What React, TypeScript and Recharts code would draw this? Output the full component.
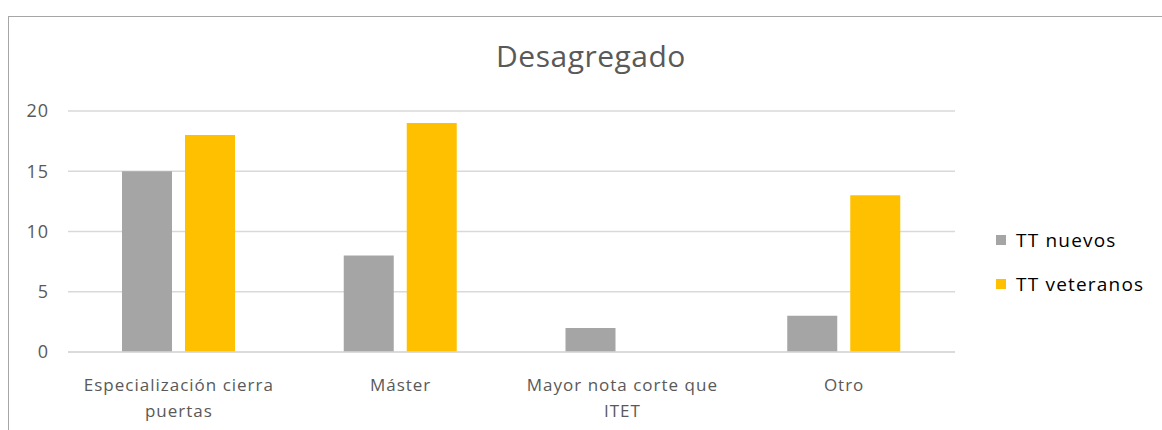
import React from 'react'
import { BarChart, Bar, XAxis, YAxis, CartesianGrid } from 'recharts'

const categories = ['Especialización cierra puertas', 'Máster', 'Mayor nota corte que ITET', 'Otro']
const tickLines = [['Especialización cierra', 'puertas'], ['Máster'], ['Mayor nota corte que', 'ITET'], ['Otro']]
const nuevos = [15, 8, 2, 3]
const veteranos = [18, 19, 0, 13]
const yTicks = [0, 5, 10, 15, 20]
const seriesNames = ['TT nuevos', 'TT veteranos']
const seriesColors = ['#A5A5A5', '#FFC000']

const data = categories.map((c, i) => ({
  name: c,
  'TT nuevos': nuevos[i],
  'TT veteranos': veteranos[i],
}))

const FONT = '"Open Sans", sans-serif'
const TEXT = '#595959'

const CategoryTick = (props: any) => {
  const { x, y, index } = props
  const lines = tickLines[index] || [props.payload.value]
  return (
    <text x={x} y={y + 31} textAnchor="middle" fill={TEXT} fontSize={17} fontFamily={FONT} letterSpacing={1}>
      {lines.map((l: string, i: number) => (
        <tspan key={i} x={x} dy={i === 0 ? 0 : 26}>{l}</tspan>
      ))}
    </text>
  )
}

export default function App() {
  return (
    <div style={{ position: 'absolute', left: 0, top: 0, width: 1162, height: 430, overflow: 'hidden', background: '#fff' }}>
      <div style={{ position: 'absolute', left: 8, top: 16, width: 1200, height: 500, border: '1px solid #A6A6A6', boxSizing: 'border-box' }} />
      <div style={{ position: 'absolute', left: 0, top: 35, width: 1182, textAlign: 'center', fontFamily: FONT, fontSize: 30, color: TEXT, letterSpacing: 0.5 }}>
        Desagregado
      </div>
      <div style={{ position: 'absolute', left: 0, top: 0 }}>
        <BarChart width={1162} height={430} data={data} margin={{ top: 111, right: 207, bottom: 48, left: 0 }} barGap={13}>
          <CartesianGrid vertical={false} stroke="#D9D9D9" strokeWidth={1.5} />
          <XAxis dataKey="name" height={30} axisLine={{ stroke: '#D9D9D9', strokeWidth: 1.5 }} tickLine={false} tick={<CategoryTick />} interval={0} />
          <YAxis
            domain={[0, 20]}
            ticks={yTicks}
            width={68}
            axisLine={false}
            tickLine={false}
            tick={{ fill: TEXT, fontSize: 18, fontFamily: FONT, letterSpacing: 1 }}
            tickMargin={13}
          />
          <Bar dataKey="TT nuevos" fill={seriesColors[0]} barSize={50} isAnimationActive={false} />
          <Bar dataKey="TT veteranos" fill={seriesColors[1]} barSize={50} isAnimationActive={false} />
        </BarChart>
      </div>
      <div style={{ position: 'absolute', left: 996, top: 226, fontFamily: FONT, fontSize: 19, letterSpacing: 1.2, color: '#000' }}>
        {seriesNames.map((label, i) => (
          <div key={label} style={{ display: 'flex', alignItems: 'center', height: 28, marginBottom: i === 0 ? 16 : 0 }}>
            <span style={{ width: 10, height: 10, background: seriesColors[i], display: 'inline-block', marginRight: 10 }} />
            <span>{label}</span>
          </div>
        ))}
      </div>
    </div>
  )
}
